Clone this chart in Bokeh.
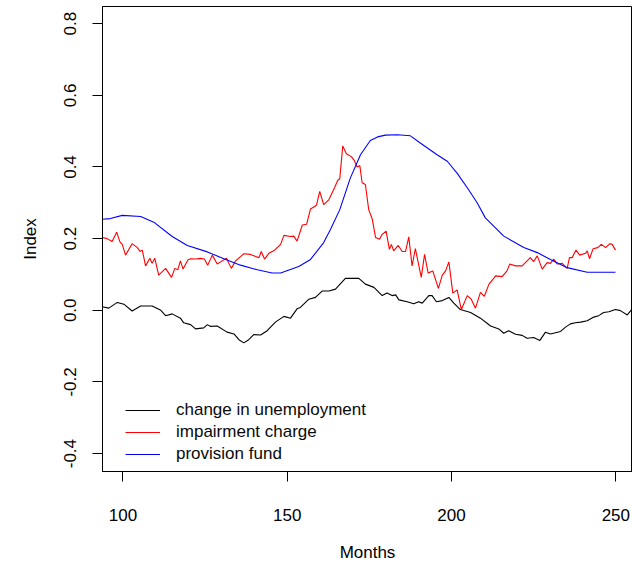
from bokeh.plotting import figure
from bokeh.models import Range1d, FixedTicker, PrintfTickFormatter, Legend, LegendItem
from bokeh.embed import file_html
from bokeh.resources import INLINE

# ---- data ----
unemp_month = [93.7, 95.7, 98.3, 100.3, 102.8, 105.4, 108.9, 111.4, 113.0, 115.0,
               117.5, 118.5, 120.6, 122.1, 124.6, 125.7, 126.7, 128.7, 131.7, 133.8,
               135.3, 136.8, 138.3, 139.8, 141.9, 143.9, 146.4, 149.0, 151.0, 153.0,
               154.0, 156.6, 158.6, 160.7, 162.7, 164.7, 167.7, 171.8, 173.8, 176.4,
               178.9, 180.4, 181.9, 183.0, 184.0, 186.5, 188.5, 190.0, 191.1, 193.1,
               194.1, 195.4, 197.2, 199.2, 200.7, 202.7, 205.8, 208.8, 211.9, 214.4,
               215.9, 217.4, 219.5, 221.5, 223.0, 225.0, 226.9, 228.6, 230.1, 233.2,
               234.7, 236.2, 237.7, 239.3, 241.3, 243.3, 244.8, 246.3, 247.9, 249.9,
               251.4, 253.5, 255.0]
unemp_value = [0.010, 0.006, 0.022, 0.017, -0.002, 0.012, 0.012, 0.001, -0.015, -0.010,
               -0.022, -0.035, -0.040, -0.052, -0.049, -0.040, -0.045, -0.044, -0.061, -0.066,
               -0.082, -0.091, -0.082, -0.068, -0.069, -0.057, -0.033, -0.017, -0.022, 0.004,
               0.008, 0.031, 0.036, 0.054, 0.054, 0.059, 0.089, 0.089, 0.073, 0.064,
               0.041, 0.048, 0.041, 0.043, 0.029, 0.024, 0.018, 0.024, 0.020, 0.041,
               0.041, 0.024, 0.027, 0.036, 0.020, 0.002, -0.006, -0.022, -0.044, -0.052,
               -0.064, -0.057, -0.067, -0.070, -0.078, -0.076, -0.084, -0.061, -0.066, -0.059,
               -0.047, -0.038, -0.035, -0.033, -0.029, -0.019, -0.015, -0.006, -0.004, 0.002,
               -0.001, -0.013, 0.004]

impair_month = [93.7, 95.2, 96.7, 98.1, 99.1, 99.8, 100.8, 102.8, 104.4, 105.2,
                105.9, 106.9, 108.2, 108.9, 109.7, 110.9, 113.0, 114.8, 115.8, 116.7,
                117.5, 118.3, 119.8, 120.6, 122.1, 123.6, 124.8, 125.8, 127.2, 128.7,
                130.2, 131.5, 133.0, 134.3, 136.3, 136.8, 138.8, 140.4, 141.4, 142.1,
                143.1, 144.4, 145.9, 148.0, 149.0, 151.0, 152.0, 153.0, 154.6, 155.9,
                157.1, 158.9, 159.9, 161.1, 162.7, 164.4, 165.4, 166.0, 166.9, 168.0,
                169.5, 170.3, 171.3, 172.1, 172.8, 173.8, 174.8, 175.9, 176.9, 178.1,
                178.9, 180.1, 181.1, 181.7, 182.4, 183.8, 185.0, 186.0, 187.0, 188.0,
                189.0, 190.8, 191.8, 192.9, 194.3, 196.0, 197.2, 198.2, 199.2, 200.4,
                201.7, 203.0, 204.8, 206.0, 207.3, 208.8, 210.0, 211.4, 212.9, 213.4,
                215.4, 216.9, 217.7, 219.5, 221.5, 224.0, 225.0, 226.1, 227.6, 229.1,
                230.1, 231.1, 232.2, 233.7, 235.2, 235.9, 236.7, 237.9, 239.0, 240.8,
                241.3, 242.0, 243.1, 244.5, 245.6, 246.9, 248.2, 248.9, 249.9]
impair_value = [0.203, 0.200, 0.192, 0.218, 0.191, 0.184, 0.154, 0.186, 0.175, 0.164,
                0.168, 0.124, 0.145, 0.131, 0.145, 0.098, 0.117, 0.092, 0.117, 0.113,
                0.138, 0.115, 0.141, 0.144, 0.143, 0.145, 0.143, 0.126, 0.154, 0.129,
                0.138, 0.145, 0.117, 0.138, 0.154, 0.158, 0.156, 0.150, 0.147, 0.164,
                0.143, 0.159, 0.166, 0.184, 0.209, 0.206, 0.207, 0.193, 0.238, 0.240,
                0.283, 0.293, 0.332, 0.295, 0.309, 0.342, 0.363, 0.367, 0.459, 0.437,
                0.429, 0.420, 0.400, 0.404, 0.356, 0.351, 0.281, 0.254, 0.203, 0.198,
                0.212, 0.221, 0.170, 0.184, 0.166, 0.181, 0.164, 0.164, 0.205, 0.124,
                0.172, 0.092, 0.156, 0.104, 0.110, 0.061, 0.098, 0.110, 0.135, 0.048,
                0.057, 0.002, 0.041, 0.031, 0.006, 0.050, 0.039, 0.073, 0.090, 0.096,
                0.094, 0.110, 0.129, 0.124, 0.124, 0.147, 0.136, 0.152, 0.115, 0.133,
                0.131, 0.143, 0.129, 0.131, 0.117, 0.147, 0.147, 0.168, 0.154, 0.159,
                0.166, 0.144, 0.172, 0.175, 0.184, 0.175, 0.186, 0.184, 0.168]

prov_month = [93.7, 96.2, 99.8, 105.4, 109.4, 115.0, 119.6, 125.7, 130.7, 135.8,
              140.9, 145.4, 148.0, 153.5, 157.1, 161.1, 163.2, 166.0, 169.2, 172.3,
              175.3, 177.5, 179.9, 183.5, 187.5, 190.5, 195.6, 198.7, 201.7, 204.8,
              207.8, 210.3, 215.9, 222.0, 226.1, 230.1, 235.2, 241.3, 244.0, 249.9]
prov_value = [0.254, 0.256, 0.265, 0.262, 0.246, 0.206, 0.181, 0.163, 0.144, 0.126,
              0.113, 0.104, 0.104, 0.122, 0.142, 0.189, 0.226, 0.281, 0.369, 0.434,
              0.474, 0.484, 0.489, 0.490, 0.487, 0.467, 0.434, 0.416, 0.383, 0.342,
              0.300, 0.258, 0.207, 0.175, 0.161, 0.142, 0.119, 0.106, 0.106, 0.106]

x_ticks = [100, 150, 200, 250]
y_ticks = [-0.4, -0.2, 0.0, 0.2, 0.4, 0.6, 0.8]
series_labels = ["change in unemployment", "impairment charge", "provision fund"]

FONT = "Liberation Sans"
FS = "17px"

p = figure(width=632, height=564, output_backend="svg", toolbar_location=None,
           x_range=Range1d(93.79, 255.08), y_range=Range1d(-0.45, 0.848),
           min_border_left=102, min_border_right=0, min_border_top=6, min_border_bottom=91)
p.xgrid.visible = False
p.ygrid.visible = False
p.outline_line_color = "black"
p.outline_line_width = 1
p.outline_line_alpha = 1
p.background_fill_color = "white"
p.border_fill_color = "white"

r1 = p.line(unemp_month, unemp_value, line_color="black", line_width=1.1)
r2 = p.line(impair_month, impair_value, line_color="#ff0000", line_width=1.1)
r3 = p.line(prov_month, prov_value, line_color="#0000ff", line_width=1.1)

for ax in (p.xaxis[0], p.yaxis[0]):
    ax.axis_line_color = "black"
    ax.major_tick_line_color = "black"
    ax.major_tick_out = 10
    ax.major_tick_in = 0
    ax.minor_tick_line_color = None
    ax.major_label_text_font = FONT
    ax.major_label_text_font_size = FS
    ax.major_label_text_color = "black"
    ax.axis_label_text_font = FONT
    ax.axis_label_text_font_size = FS
    ax.axis_label_text_font_style = "normal"
    ax.axis_label_text_color = "black"

p.xaxis.ticker = FixedTicker(ticks=x_ticks)
p.yaxis.ticker = FixedTicker(ticks=y_ticks)
p.yaxis.formatter = PrintfTickFormatter(format="%.1f")
p.yaxis.major_label_orientation = "vertical"
p.xaxis.major_label_standoff = 27
p.yaxis.major_label_standoff = 16
p.xaxis.axis_label = "Months"
p.yaxis.axis_label = "Index"
p.xaxis.axis_label_standoff = 19
p.yaxis.axis_label_standoff = 22

legend = Legend(items=[LegendItem(label=series_labels[0], renderers=[r1]),
                       LegendItem(label=series_labels[1], renderers=[r2]),
                       LegendItem(label=series_labels[2], renderers=[r3])],
                location=(23, 6), padding=0, margin=0, spacing=0,
                glyph_width=35, glyph_height=22, label_height=22, label_standoff=16,
                label_text_font=FONT, label_text_font_size=FS, label_text_color="#0a0a0a",
                border_line_alpha=0, background_fill_alpha=0)
p.add_layout(legend, "center")

open("out.html", "w").write(file_html(p, INLINE))
